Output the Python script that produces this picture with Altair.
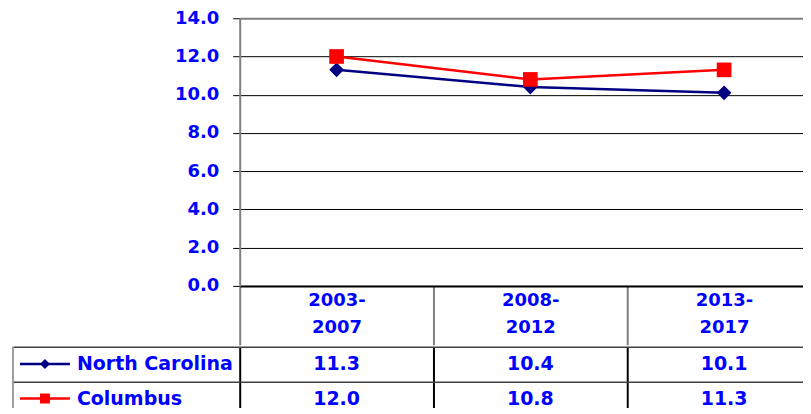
import altair as alt
import pandas as pd

periods = ["2003-2007", "2008-2012", "2013-2017"]
series = ["North Carolina", "Columbus"]
north_carolina = [11.3, 10.4, 10.1]
columbus = [12.0, 10.8, 11.3]

BLUE = "#0000FF"
FONT = "DejaVu Sans"
colors = alt.Scale(domain=series, range=["#000080", "#FF0000"])
shapes = alt.Scale(domain=series, range=["diamond", "square"])

df = pd.DataFrame({
    "period": periods * 2,
    "series": [series[0]] * 3 + [series[1]] * 3,
    "value": north_carolina + columbus,
})
legend_df = pd.DataFrame({"series": series})

band = alt.Scale(domain=periods, paddingInner=0, paddingOuter=0)

# top: the line chart, its x axis doubles as the table header row
x_top = alt.X("period:N", scale=band, axis=alt.Axis(
    title=None, labelAngle=0, labelColor=BLUE, labelFont=FONT, labelFontSize=18,
    labelFontWeight="bold", labelLineHeight=27, labelBaseline="top",
    labelExpr="[slice(datum.label, 0, 5), slice(datum.label, 5)]",
    labelPadding=-53, tickBand="extent", tickSize=59, tickColor="#808080",
    tickWidth=2, domainColor="black", domainWidth=2, grid=False))

y_top = alt.Y("value:Q", scale=alt.Scale(domain=[0, 14], nice=False), axis=alt.Axis(
    title=None, values=[0, 2, 4, 6, 8, 10, 12, 14], format=".1f",
    labelColor=BLUE, labelFont=FONT, labelFontSize=18, labelFontWeight="bold",
    labelPadding=14, tickSize=7, tickColor="black", domainColor="#808080",
    domainWidth=2, gridColor={"condition": {"test": "datum.value === 14", "value": "#808080"}, "value": "black"},
    gridWidth={"condition": {"test": "datum.value === 14", "value": 2}, "value": 1},
    minExtent=232, maxExtent=232))

base = alt.Chart(df).encode(x=x_top, y=y_top,
                            color=alt.Color("series:N", scale=colors, legend=None))
lines = base.mark_line(strokeWidth=2.5)
points = base.mark_point(filled=True, opacity=1, size=216).encode(
    shape=alt.Shape("series:N", scale=shapes, legend=None))
top = (lines + points).properties(width=582, height=268)

# bottom: the data table
x_tab = alt.X("period:N", scale=band, axis=alt.Axis(
    title=None, labels=False, ticks=False, domain=False, grid=True,
    gridColor="black", gridWidth=2, tickBand="extent"))
y_tab = alt.Y("series:N", scale=alt.Scale(domain=series, paddingInner=0, paddingOuter=0),
              axis=alt.Axis(title=None, labels=False, domain=False, tickBand="extent",
                            tickSize=227, tickColor="#404040", tickWidth=1.5, grid=True,
                            gridColor="#404040", gridWidth=1.5, minExtent=232, maxExtent=232))

cells = alt.Chart(df).mark_text(font=FONT, fontSize=19, fontWeight="bold", color=BLUE).encode(
    x=x_tab, y=y_tab, text=alt.Text("value:Q", format=".1f"))

names = alt.Chart(legend_df).mark_text(font=FONT, fontSize=19, fontWeight="bold",
                                       color=BLUE, align="left").encode(
    x=alt.value(-163), y=y_tab, text="series:N")
key_line = alt.Chart(legend_df).mark_rule(strokeWidth=2.5).encode(
    x=alt.value(-220), x2=alt.value(-170), y=y_tab,
    color=alt.Color("series:N", scale=colors, legend=None))
key_mark = alt.Chart(legend_df).mark_point(filled=True, opacity=1, size=100).encode(
    x=alt.value(-195), y=y_tab,
    color=alt.Color("series:N", scale=colors, legend=None),
    shape=alt.Shape("series:N", scale=shapes, legend=None))
left_border = alt.Chart(pd.DataFrame({"a": [0]})).mark_rule(color="#808080", strokeWidth=1.5).encode(
    x=alt.value(-227), y=alt.value(0), y2=alt.value(69))

bottom = (cells + names + key_line + key_mark + left_border).properties(width=582, height=69)

# the reference is cropped on the right and bottom edges
chart = alt.vconcat(top, bottom, spacing=0).properties(
    padding={"left": 0, "top": 1, "right": -19, "bottom": -9}
).configure_view(stroke=None)

chart.save("out.html", embed_options={"renderer": "svg", "actions": False})
